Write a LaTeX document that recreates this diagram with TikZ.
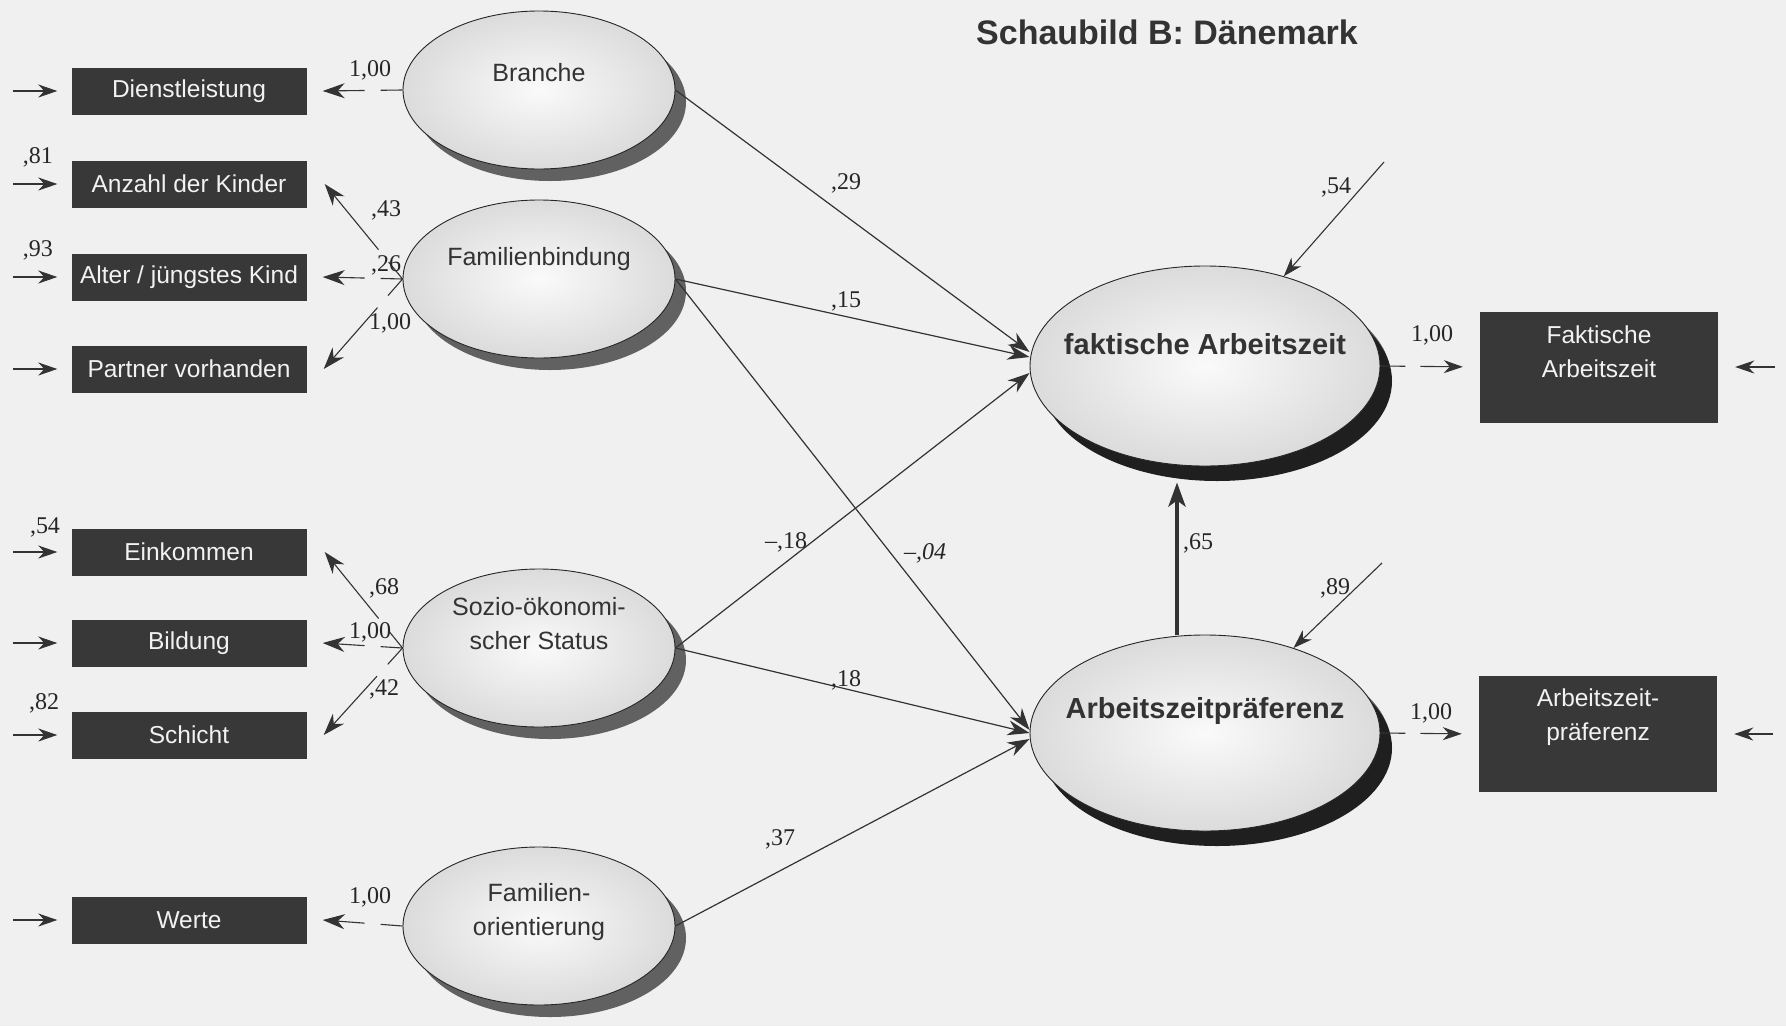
\documentclass[tikz,border=0pt]{standalone}
\usepackage{fontspec}
\setmainfont{Liberation Serif}
\setsansfont{Liberation Sans}
\usepackage{tikz}
\usetikzlibrary{arrows.meta, shapes.geometric, shadows}

\begin{document}
\begin{tikzpicture}[x=1pt, y=-1pt,
    obs/.style={rectangle, fill=black!78, minimum width=235pt, minimum height=47pt, inner sep=0pt},
    obstext/.style={inner sep=0pt, align=center, text=black!5, font=\sffamily\fontsize{24.5}{34}\selectfont},
    latent/.style={ellipse, draw=black!85, line width=0.9pt, inner color=black!2, outer color=black!14, minimum width=272pt, minimum height=158pt, inner sep=0pt, drop shadow={shadow xshift=11pt, shadow yshift=-12pt, fill=black!62, opacity=1}},
    endo/.style={latent, minimum width=350pt, minimum height=200pt, drop shadow={shadow xshift=12pt, shadow yshift=-15pt, fill=black!88, opacity=1}},
    lattext/.style={inner sep=0pt, align=center, text=black!80, font=\sffamily\fontsize{25}{34}\selectfont},
    coef/.style={inner sep=0pt, text=black!85, font=\fontsize{24}{28}\selectfont},
    pathto/.style={draw=black!80, line width=1.2pt, -{Stealth[length=22pt, width=15pt, inset=7pt]}},
    errin/.style={draw=black!80, line width=1.1pt, -{Stealth[length=19pt, width=13pt, inset=6pt]}},
    loading/.style={errin, dash pattern=on 22pt off 16pt on 300pt, -{Stealth[length=22pt, width=15pt, inset=7pt]}}]
\fill[black!6] (0,0) rectangle (1786,1026);
\useasboundingbox (0,0) rectangle (1786,1026);
\node[font=\sffamily\bfseries\fontsize{34}{38}\selectfont, text=black!80] (head) at (1167,32) {Schaubild B: Dänemark};
% indicators
\foreach \n/\y/\t in {Dl/91/Dienstleistung, Anz/184/Anzahl der Kinder, Alt/277/{Alter / jüngstes Kind}, Par/369/Partner vorhanden, Ein/552/Einkommen, Bil/643/Bildung, Sch/735/Schicht, Wer/920/Werte}
  {\node[obs] (\n) at (189,\y) {};
   \node[obstext] (t\n) at (\n.center) {\t};}
\node[obs, minimum width=238pt, minimum height=111pt] (FAx) at (1599,367) {};
\node[obstext] (tFAx) at ([yshift=15pt]FAx.center) {Faktische\\Arbeitszeit};
\node[obs, minimum width=238pt, minimum height=116pt] (AZx) at (1598,734) {};
\node[obstext] (tAZx) at ([yshift=17pt]AZx.center) {Arbeitszeit-\\präferenz};
% latent variables
\foreach \n/\y/\s/\t in {B/90/17/Branche, F/279/20/Familienbindung, S/648/24/{Sozio-ökonomi-\\scher Status}, FO/926/14/{Familien-\\orientierung}}
  {\node[latent] (\n) at (539,\y) {};
   \node[lattext] (t\n) at ([yshift=\s pt]\n.center) {\t};}
\node[endo] (FA) at (1205,366) {};
\node[lattext, font=\sffamily\bfseries\fontsize{29}{34}\selectfont] (tFA) at ([yshift=22pt]FA.center) {faktische Arbeitszeit};
\node[endo, minimum height=196pt] (AZ) at (1205,733) {};
\node[lattext, font=\sffamily\bfseries\fontsize{29}{34}\selectfont] (tAZ) at ([yshift=22pt]AZ.center) {Arbeitszeitpräferenz};
% error terms
\coordinate (dFA) at (1384,162);
\coordinate (dAZ) at (1382,563);
\coordinate (rFA) at (1775,367);
\coordinate (rAZ) at (1773,734);
\foreach \n in {Dl,Anz,Alt,Par,Ein,Bil,Sch,Wer}
  \draw[errin, shorten >=14pt] ([xshift=-58pt]\n.west) -- (\n.west);
\draw[errin] (dFA) -- (FA);
\draw[errin] (dAZ) -- (AZ);
\draw[errin, shorten >=17pt] (rFA) -- (FAx.east);
\draw[errin, shorten >=17pt] (rAZ) -- (AZx.east);
% measurement
\draw[loading] (B.west) -- ([xshift=16pt]Dl.east);
\draw[loading] (F.west) -- ([xshift=18pt]Anz.east);
\draw[loading] (F.west) -- ([xshift=16pt]Alt.east);
\draw[loading] (F.west) -- ([xshift=17pt]Par.east);
\draw[loading] (S.west) -- ([xshift=18pt]Ein.east);
\draw[loading] (S.west) -- ([xshift=16pt]Bil.east);
\draw[loading] (S.west) -- ([xshift=17pt]Sch.east);
\draw[loading] (FO.west) -- ([xshift=16pt]Wer.east);
\draw[errin, dash pattern=on 25pt off 15pt on 100pt, shorten >=17pt] (FA.east) -- (FAx.west);
\draw[errin, dash pattern=on 25pt off 15pt on 100pt, shorten >=17pt] (AZ.east) -- (AZx.west);
% structural paths
\draw[pathto] (B.east) -- ([yshift=14pt]FA.west);
\draw[pathto] (F.east) -- ([yshift=9pt]FA.west);
\draw[pathto] (F.east) -- ([yshift=3pt]AZ.west);
\draw[pathto] (S.east) -- ([yshift=-7pt]FA.west);
\draw[pathto] (S.east) -- (AZ.west);
\draw[pathto] (FO.east) -- ([yshift=-6pt]AZ.west);
\draw[pathto, line width=4.5pt, -{Stealth[length=24pt, width=17pt, inset=6pt]}] ([xshift=-28pt]AZ.north) -- ([xshift=-28pt, yshift=-16pt]FA.south);
% coefficients
\foreach \n/\x/\y/\t in {l1/370/70/{1,00}, l2/386/210/{,43}, l3/386/265/{,26}, l4/390/323/{1,00}, l5/384/588/{,68}, l6/370/632/{1,00}, l7/384/689/{,42}, l8/370/897/{1,00},
    e1/38/157/{,81}, e2/38/250/{,93}, e3/45/527/{,54}, e4/44/703/{,82},
    p1/846/183/{,29}, p2/846/301/{,15}, p3/786/542/{–,18}, p4/925/553/{\itshape –,04}, p5/846/680/{,18}, p6/780/839/{,37}, p7/1198/543/{,65},
    d1/1336/187/{,54}, d2/1335/588/{,89}, m1/1432/335/{1,00}, m2/1431/713/{1,00}}
  \node[coef] (\n) at (\x,\y) {\t};
\end{tikzpicture}
\end{document}
